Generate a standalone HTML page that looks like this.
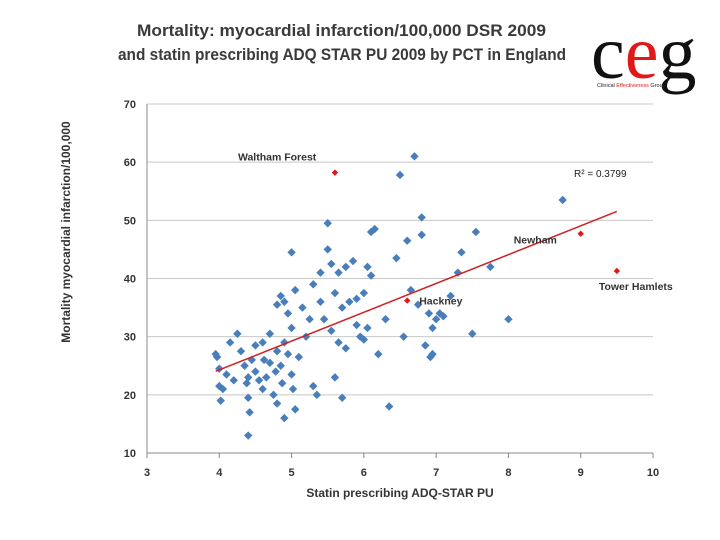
<!DOCTYPE html>
<html><head><meta charset="utf-8"><style>
body{margin:0;background:#fff;}
svg{display:block;font-family:"Liberation Sans",sans-serif;}
</style></head><body>
<svg width="720" height="540" viewBox="0 0 720 540">
<text x="137" y="36" textLength="409" lengthAdjust="spacingAndGlyphs" font-weight="bold" font-size="17" fill="#3a3a3a">Mortality: myocardial infarction/100,000 DSR 2009</text>
<text x="118" y="60" textLength="448" lengthAdjust="spacingAndGlyphs" font-weight="bold" font-size="17" fill="#3a3a3a">and statin prescribing  ADQ STAR PU 2009 by PCT in England</text>
<g>
<text x="591" y="78" font-family="Liberation Serif,serif" font-size="76" fill="#111"><tspan>c</tspan><tspan fill="#e01818">e</tspan><tspan>g</tspan></text>
<text x="597" y="87" font-size="5.5" fill="#222">Clinical <tspan fill="#e01818">Effectiveness</tspan> Group</text>
</g>
<g id="grid"></g>
<g id="axes"></g>
<g id="marks"></g>
<text x="400" y="497" text-anchor="middle" font-weight="bold" font-size="12" fill="#333">Statin prescribing ADQ-STAR PU</text>
<text transform="translate(70,232) rotate(-90)" text-anchor="middle" font-weight="bold" font-size="12" fill="#333">Mortality myocardial infarction/100,000</text>
<text x="574" y="177" font-size="10" fill="#222">R² = 0.3799</text>
</svg>
<script>
const xTicks=[3,4,5,6,7,8,9,10];
const yTicks=[10,20,30,40,50,60,70];
const statin=[3.95,3.97,4.0,4.0,4.02,4.05,4.1,4.15,4.2,4.25,4.3,4.35,4.38,4.4,4.4,4.42,4.4,4.45,4.5,4.5,4.55,4.6,4.6,4.62,4.65,4.7,4.7,4.75,4.78,4.8,4.8,4.85,4.87,4.9,4.9,4.95,5.0,5.0,5.02,5.05,4.8,4.85,4.9,4.95,5.0,5.05,5.1,5.15,5.2,5.25,5.3,5.3,5.35,5.4,5.4,5.45,5.5,5.5,5.55,5.55,5.6,5.6,5.65,5.65,5.7,5.7,5.75,5.75,5.8,5.85,5.9,5.9,5.95,6.0,6.0,6.05,6.05,6.1,6.15,6.1,6.2,6.3,6.35,6.45,6.5,6.55,6.6,6.65,6.7,6.75,6.8,6.8,6.85,6.9,6.92,6.95,6.95,7.0,7.05,7.1,7.2,7.3,7.35,7.5,7.55,7.75,8.0,8.75];
const mortality=[27,26.5,24.5,21.5,19,21,23.5,29,22.5,30.5,27.5,25,22,19.5,13,17,23,26,28.5,24,22.5,21,29,26,23,30.5,25.5,20,24,18.5,27.5,25,22,29,16,27,44.5,23.5,21,17.5,35.5,37,36,34,31.5,38,26.5,35,30,33,39,21.5,20,41,36,33,45,49.5,42.5,31,37.5,23,29,41,35,19.5,28,42,36,43,32,36.5,30,29.5,37.5,42,31.5,48,48.5,40.5,27,33,18,43.5,57.8,30,46.5,38,61,35.5,47.5,50.5,28.5,34,26.5,27,31.5,33,34,33.5,37,41,44.5,30.5,48,42,33,53.5];
const hlNames=["Waltham Forest","Hackney","Newham","Tower Hamlets"];
const hlStatin=[5.6,6.6,9.0,9.5];
const hlMortality=[58.2,36.2,47.7,41.3];
const NS="http://www.w3.org/2000/svg";
const sx=v=>147+(v-3)*(653-147)/7;
const sy=v=>453-(v-10)*(453-104)/60;
function mk(tag,attrs,parent){const e=document.createElementNS(NS,tag);for(const k in attrs)e.setAttribute(k,attrs[k]);parent.appendChild(e);return e;}
const grid=document.getElementById('grid'),axes=document.getElementById('axes'),marks=document.getElementById('marks');
yTicks.forEach(t=>{
  if(t>10){const l=mk('line',{x1:147,x2:653,y1:sy(t),y2:sy(t),stroke:'#c8c8c8','stroke-width':1},grid);
  
  }
  const tx=mk('text',{x:136,y:sy(t)+4,'text-anchor':'end','font-size':11,'font-weight':'bold',fill:'#333'},axes);
  tx.textContent=t;
  
  
});
const xa=mk('line',{x1:147,x2:653,y1:453,y2:453,stroke:'#888','stroke-width':1},axes);


const ya=mk('line',{x1:147,x2:147,y1:104,y2:453,stroke:'#888','stroke-width':1},axes);


xTicks.forEach(t=>{
  mk('line',{x1:sx(t),x2:sx(t),y1:453,y2:458,stroke:'#888'},axes);
  const tx=mk('text',{x:sx(t),y:476,'text-anchor':'middle','font-size':11,'font-weight':'bold',fill:'#333'},axes);
  tx.textContent=t;
  
  
});
function diamond(x,y,r,fill,name){
  const p=mk('polygon',{points:`${x},${y-r} ${x+r},${y} ${x},${y+r} ${x-r},${y}`,fill:fill},marks);
  
  
}
statin.forEach((v,i)=>diamond(sx(v),sy(mortality[i]),4.2,'#4a7ebb','pct-point'));
const ax=statin.concat(hlStatin),ay=mortality.concat(hlMortality);
const n=ax.length,mx=ax.reduce((a,b)=>a+b)/n,my=ay.reduce((a,b)=>a+b)/n;
let sxy=0,sxx=0;ax.forEach((v,i)=>{sxy+=(v-mx)*(ay[i]-my);sxx+=(v-mx)*(v-mx);});
const b=sxy/sxx,a=my-b*mx;
const xmin=Math.min(...ax),xmax=Math.max(...ax);
const tl=mk('line',{x1:sx(xmin),y1:sy(a+b*xmin),x2:sx(xmax),y2:sy(a+b*xmax),stroke:'#d02020','stroke-width':1.5},marks);


const lblOff=[[-97,-12],[12,4],[-67,10],[-18,19]];
hlStatin.forEach((v,i)=>{
  diamond(sx(v),sy(hlMortality[i]),3.2,'#e01818','highlight-point');
  const t=mk('text',{x:sx(v)+lblOff[i][0],y:sy(hlMortality[i])+lblOff[i][1],'font-size':10.5,'font-weight':'bold',fill:'#333'},marks);
  t.textContent=hlNames[i];
  
  
});
</script>
</body></html>
